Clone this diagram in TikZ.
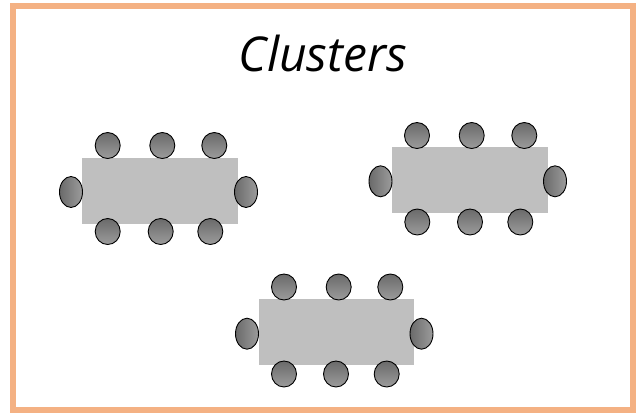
\documentclass[tikz,border=0pt]{standalone}
\usepackage{fontspec}
\setmainfont{Open Sans}
\usetikzlibrary{shapes.geometric}
\definecolor{frameor}{HTML}{F4B183}
\definecolor{tablegray}{HTML}{BFBFBF}
\definecolor{chairdark}{HTML}{6A6A6A}
\definecolor{chairlight}{HTML}{9C9C9C}
\tikzset{
  px/.style={x=1pt,y=-1pt},
  frame/.style={draw=frameor,line width=6pt},
  tablebox/.style={fill=tablegray,draw=none},
  chairv/.style={ellipse,draw=black,line width=0.9pt,minimum width=25pt,minimum height=26pt,inner sep=0pt,top color=chairdark,bottom color=chairlight},
  chairh/.style={ellipse,draw=black,line width=0.9pt,minimum width=23pt,minimum height=31pt,inner sep=0pt,left color=chairdark,right color=chairlight},
  title/.style={font=\fontsize{48}{54}\selectfont\itshape},
}
\begin{document}
\begin{tikzpicture}[px]
\useasboundingbox (0,0) rectangle (636,413);
\draw[frame] (13,6) rectangle (633,410);
\node[title,anchor=base] (t) at (323,71.7) {Clusters};
% table 1
\fill[tablebox] (82,158) rectangle (238,224);
\node[chairv] (a1) at (107.7,145.5) {};
\node[chairv] (a2) at (162.3,145.5) {};
\node[chairv] (a3) at (214.3,145.5) {};
\node[chairv] (a4) at (107.7,231.5) {};
\node[chairv] (a5) at (160.7,231.5) {};
\node[chairv] (a6) at (210.3,231.5) {};
\node[chairh] (a7) at (71,192) {};
\node[chairh] (a8) at (246,192) {};
% table 2
\fill[tablebox] (392,147) rectangle (548,213);
\node[chairv] (b1) at (417,135.5) {};
\node[chairv] (b2) at (471.7,135.5) {};
\node[chairv] (b3) at (524.3,135.5) {};
\node[chairv] (b4) at (417.3,222) {};
\node[chairv] (b5) at (470,222) {};
\node[chairv] (b6) at (520.3,222) {};
\node[chairh] (b7) at (380.5,181.3) {};
\node[chairh] (b8) at (555,181.3) {};
% table 3
\fill[tablebox] (259,299) rectangle (414,365);
\node[chairv] (c1) at (284,287) {};
\node[chairv] (c2) at (338.7,287) {};
\node[chairv] (c3) at (390.3,287) {};
\node[chairv] (c4) at (284,374) {};
\node[chairv] (c5) at (336,374) {};
\node[chairv] (c6) at (386.7,374) {};
\node[chairh] (c7) at (247,333.7) {};
\node[chairh] (c8) at (421.5,333.7) {};
\end{tikzpicture}
\end{document}
